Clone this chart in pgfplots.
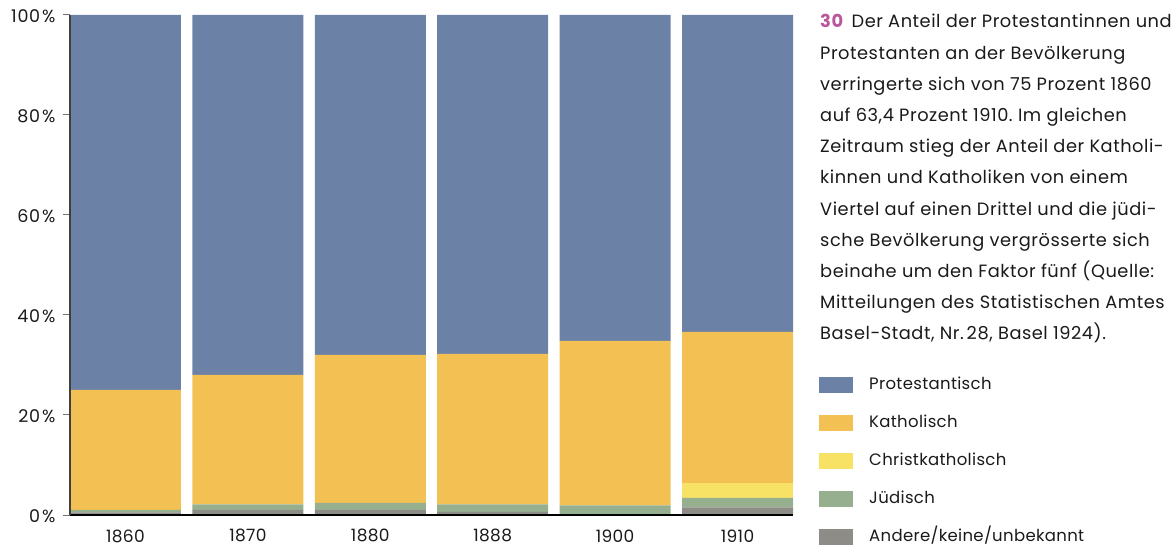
\documentclass[border=0pt]{standalone}
\usepackage{pgfplots}
\pgfplotsset{compat=1.18}
\usepackage{pgfplotstable}
\usepackage{fontspec}
\setmainfont{Poppins}
\newfontfamily\parafont[LetterSpace=3]{Poppins}
\newfontfamily\legfont[LetterSpace=2]{Poppins}
\newfontfamily\tickfont[LetterSpace=4]{Poppins}
\definecolor{prot}{HTML}{6B82A6}
\definecolor{cath}{HTML}{F3C153}
\definecolor{christ}{HTML}{F8E266}
\definecolor{jew}{HTML}{96B08F}
\definecolor{other}{HTML}{8E8C86}
\definecolor{num}{HTML}{B8579B}
\definecolor{txt}{HTML}{1A1A1A}
\pgfplotstableread{
x other jew christ cath prot
0 0.5 0.5 0 24.0 75.0
1 1.0 1.1 0 25.9 72.0
2 1.0 1.4 0 29.6 68.0
3 0.6 1.5 0 30.1 67.8
4 0.1 1.8 0 32.9 65.2
5 1.5 1.9 3.0 30.2 63.4
}\datatable
\begin{document}
\frenchspacing
\begin{tikzpicture}
\path[use as bounding box] (0,0) rectangle (1174bp,547bp);
\begin{axis}[
  at={(70bp,32bp)}, anchor=south west,
  scale only axis, width=723bp, height=500bp,
  ybar stacked, bar width=111bp,
  xmin=-0.453, xmax=5.453, ymin=0, ymax=100,
  xtick={0,...,5}, xticklabels={1860,1870,1880,1888,1900,1910},
  ytick={0,20,...,100},
  yticklabel={\pgfmathprintnumber{\tick}\hspace{2bp}\%},
  axis x line=bottom, axis y line=left,
  axis line style={-},
  x axis line style={black, line width=1.2bp},
  y axis line style={black!75, line width=1.6bp},
  xtick style={draw=none},
  ytick style={draw=black!55, line width=1bp},
  major tick length=7bp, tick align=outside,
  tick label style={font=\legfont\fontsize{17bp}{19bp}\selectfont, text=txt},
  yticklabel style={font=\tickfont\fontsize{17.5bp}{19bp}\selectfont, xshift=-4bp, yshift=-1bp},
  xticklabel style={yshift=-4bp},
  /pgf/number format/assume math mode=true,
  axis on top=true,
  legend image code/.code={\fill[#1] (0bp,-8bp) rectangle (34bp,8bp);},
  reverse legend,
  legend cell align=left,
  legend style={at={(1.036,0.276)}, anchor=north west, draw=none, fill=none,
    inner sep=0pt, row sep=22bp, column sep=14bp,
    font=\legfont\fontsize{16.5bp}{18bp}\selectfont,
    nodes={text height=11bp, text depth=3bp, inner ysep=0pt, text=txt}},
]
\addplot[fill=other, draw=none] table[x=x, y=other] {\datatable};
\addplot[fill=jew, draw=none] table[x=x, y=jew] {\datatable};
\addplot[fill=christ, draw=none] table[x=x, y=christ] {\datatable};
\addplot[fill=cath, draw=none] table[x=x, y=cath] {\datatable};
\addplot[fill=prot, draw=none] table[x=x, y=prot] {\datatable};
\legend{Andere/keine/unbekannt, Jüdisch, Christkatholisch, Katholisch, Protestantisch}
\end{axis}
\begin{scope}[every node/.style={anchor=base west, inner sep=0pt, text=txt, font=\parafont\fontsize{17.8bp}{19bp}\selectfont}]
\node at (820bp,519bp) {\textcolor{num}{\textbf{30}}\hspace{8bp}Der Anteil der Protestantinnen und};
\node at (820bp,487.8bp) {Protestanten an der Bevölkerung};
\node at (820bp,456.6bp) {verringerte sich von 75 Prozent 1860};
\node at (820bp,425.4bp) {auf 63,4 Prozent 1910. Im gleichen};
\node at (820bp,394.2bp) {Zeitraum stieg der Anteil der Katholi-};
\node at (820bp,363bp) {kinnen und Katholiken von einem};
\node at (820bp,331.8bp) {Viertel auf einen Drittel und die jüdi-};
\node at (820bp,300.6bp) {sche Bevölkerung vergrösserte sich};
\node at (820bp,269.4bp) {beinahe um den Faktor fünf (Quelle:};
\node at (820bp,238.2bp) {Mitteilungen des Statistischen Amtes};
\node at (820bp,207bp) {Basel-Stadt, Nr.\,28, Basel 1924).};
\end{scope}
\end{tikzpicture}
\end{document}
